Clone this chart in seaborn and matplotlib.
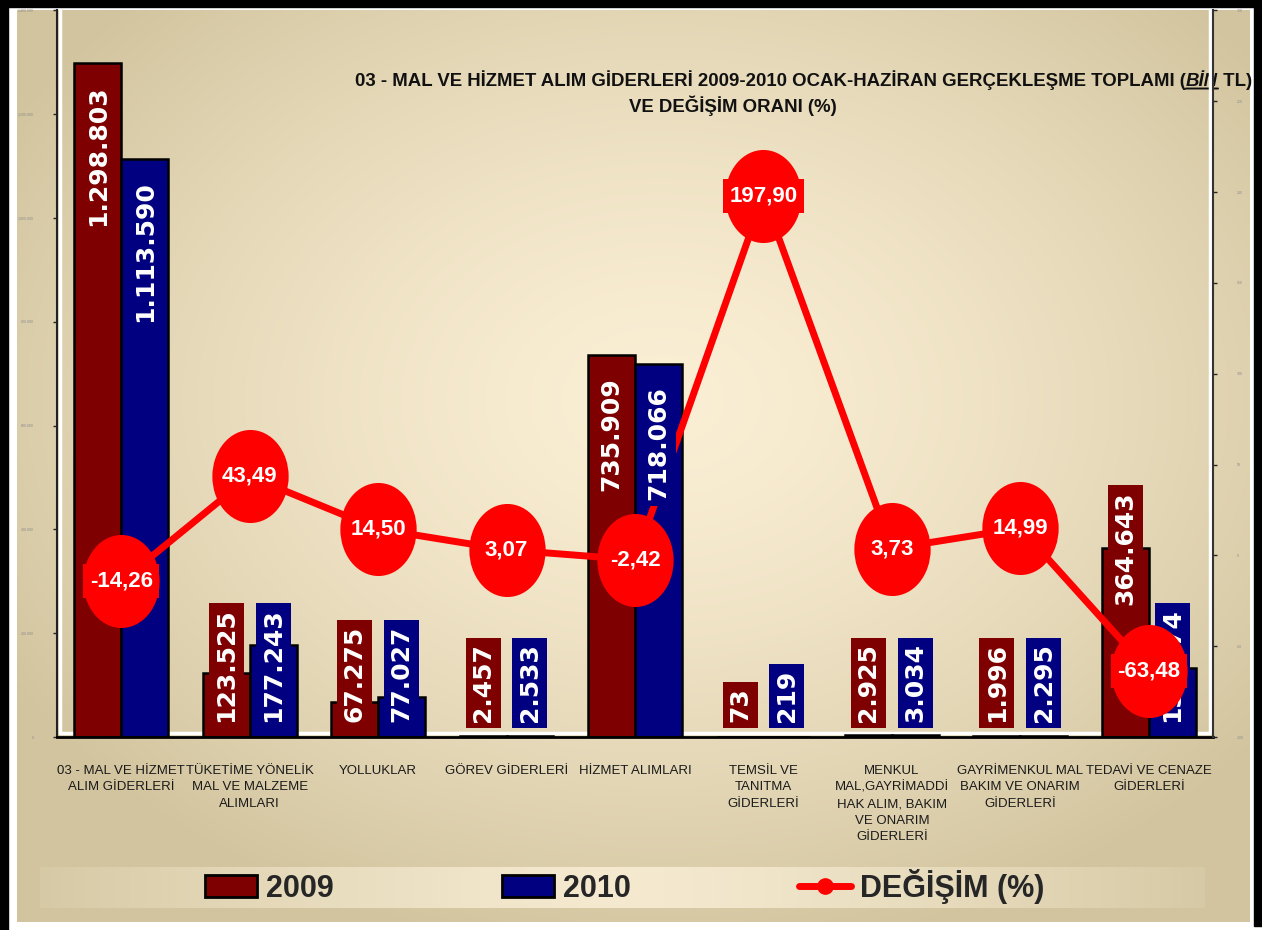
import numpy as np
import pandas as pd
import matplotlib
matplotlib.use('Agg')
import matplotlib.pyplot as plt
import matplotlib.transforms as mtransforms
import seaborn as sns
from matplotlib.patches import Patch, Rectangle
from matplotlib.lines import Line2D
from matplotlib.path import Path
from matplotlib import font_manager

# --- veri ---
categories = [
    "03 - MAL VE HİZMET\nALIM GİDERLERİ",
    "TÜKETİME YÖNELİK\nMAL VE MALZEME\nALIMLARI",
    "YOLLUKLAR",
    "GÖREV GİDERLERİ",
    "HİZMET ALIMLARI",
    "TEMSİL VE\nTANITMA\nGİDERLERİ",
    "MENKUL\nMAL,GAYRİMADDİ\nHAK ALIM, BAKIM\nVE ONARIM\nGİDERLERİ",
    "GAYRİMENKUL MAL\nBAKIM VE ONARIM\nGİDERLERİ",
    "TEDAVİ VE CENAZE\nGİDERLERİ",
]
val_2009 = [1298803, 123525, 67275, 2457, 735909, 73, 2925, 1996, 364643]
val_2010 = [1113590, 177243, 77027, 2533, 718066, 219, 3034, 2295, 133174]
change_pct = [-14.26, 43.49, 14.50, 3.07, -2.42, 197.90, 3.73, 14.99, -63.48]
years = ["2009", "2010"]

title_1a = "03 - MAL VE HİZMET ALIM GİDERLERİ 2009-2010 OCAK-HAZİRAN GERÇEKLEŞME TOPLAMI ("
title_1b = "BİN"
title_1c = " TL)"
title_2 = "VE DEĞİŞİM ORANI (%)"

COL_2009 = '#7F0000'
COL_2010 = '#000080'
COL_LINE = '#FF0000'

sns.set_style('white')
installed = {f.name for f in font_manager.fontManager.ttflist}
narrow = 'Liberation Sans Narrow' if 'Liberation Sans Narrow' in installed else 'Liberation Sans'
plt.rcParams['font.family'] = ['Liberation Sans', 'DejaVu Sans']

W, H, DPI = 1262, 930, 100
fig = plt.figure(figsize=(W / DPI, H / DPI), dpi=DPI, facecolor='white')

# arka plan (piksel koordinatlari)
bg = fig.add_axes([0, 0, 1, 1], zorder=-10)
yy, xx = np.mgrid[11:922:3, 17:1250:3]
d = np.sqrt(((xx - 660) / 760.0) ** 2 + ((yy - 400) / 560.0) ** 2)
t = np.clip(d, 0, 1) ** 1.5
c_in = np.array([250, 238, 212]) / 255.0
c_out = np.array([210, 196, 158]) / 255.0
img = c_in * (1 - t)[..., None] + c_out * t[..., None]
bg.imshow(img, extent=(17, 1250, 922, 11), aspect='auto', interpolation='bilinear')

# lejant bandi
bx = np.linspace(-1, 1, 400)
tb = np.abs(bx) ** 1.3
band = c_in * 0.98 * (1 - tb)[:, None] + np.array([214, 202, 166]) / 255.0 * tb[:, None]
bg.imshow(band[None, :, :], extent=(40, 1205, 908, 867), aspect='auto', interpolation='bilinear')

bg.add_patch(Rectangle((0, 0), 8, H, color='black'))
bg.add_patch(Rectangle((0, 0), W, 7, color='black'))
bg.add_patch(Rectangle((1254, 0), 8, 926, color='black'))
bg.set_xlim(0, W)
bg.set_ylim(H, 0)
bg.axis('off')

# ana eksen
ax = fig.add_axes([57 / W, 193 / H, (1213 - 57) / W, (737 - 10.5) / H])
ax.patch.set_alpha(0)

df = pd.DataFrame({
    'kategori': categories * 2,
    'yil': [years[0]] * len(categories) + [years[1]] * len(categories),
    'deger': val_2009 + val_2010,
})
sns.barplot(data=df, x='kategori', y='deger', hue='yil', ax=ax,
            palette={years[0]: COL_2009, years[1]: COL_2010},
            width=0.73, saturation=1, edgecolor='black', linewidth=1.8,
            legend=False, errorbar=None)

xpos = np.arange(len(categories))
ax.set_xlim(-0.5, len(categories) - 0.5)
ax.set_ylim(0, 1400000)
ax.set_yticks(np.arange(0, 1400001, 200000))
ax.set_yticklabels([f"{v:,}".replace(',', '.') for v in range(0, 1400001, 200000)],
                   fontsize=2.5, color='#8c8c8c')
ax.tick_params(axis='y', direction='out', length=3, width=1, pad=14, left=True)
ax.set_xticks(xpos, labels=categories, fontsize=9.5, linespacing=1.5,
              color='#1a1a1a', fontfamily=narrow)
ax.set_xticks(np.arange(-0.5, len(categories)), minor=True)
ax.tick_params(axis='x', which='major', length=0, pad=20)
ax.tick_params(axis='x', which='minor', direction='inout', length=10, width=1)
ax.set_xlabel('')
ax.set_ylabel('')
for s in ['top', 'right']:
    ax.spines[s].set_visible(False)
ax.spines['left'].set_color('#222222')
ax.spines['left'].set_linewidth(1.5)
ax.spines['bottom'].set_color('black')
ax.spines['bottom'].set_linewidth(2)
# ic beyaz cerceve (sol, alt, sag)
ax.plot([0.003, 0.003, 0.997, 0.997], [1, 0.005, 0.005, 1], transform=ax.transAxes,
        color='white', linewidth=2.5, zorder=0.5, clip_on=False)

# ikincil eksen: degisim (%)
ax2 = ax.twinx()
ax2.patch.set_alpha(0)
sns.lineplot(x=xpos, y=change_pct, ax=ax2, color=COL_LINE, linewidth=5,
             zorder=2, legend=False, errorbar=None)
ellipse = Path.unit_circle().transformed(mtransforms.Affine2D().scale(0.82, 1.0))
sns.scatterplot(x=xpos, y=change_pct, ax=ax2, marker=ellipse, s=67 ** 2,
                color=COL_LINE, linewidth=0, zorder=4, legend=False)
ax2.set_ylim(-100, 300)
ax2.set_yticks(np.arange(-100, 301, 50))
ax2.set_yticklabels([str(v) for v in range(-100, 301, 50)], fontsize=2.5, color='#8c8c8c')
ax2.tick_params(axis='y', direction='out', length=3, width=1, pad=14, right=True)
ax2.set_xlim(-0.5, len(categories) - 0.5)
ax2.set_ylabel('')
ax2.set_xlabel('')
for s in ['top', 'left', 'bottom']:
    ax2.spines[s].set_visible(False)
ax2.spines['right'].set_color('#333333')
ax2.spines['right'].set_linewidth(1.5)

# sutun etiketleri (cizginin ustunde)
for cont, vals, col in zip(ax.containers, [val_2009, val_2010], [COL_2009, COL_2010]):
    for rect, v in zip(cont, vals):
        cx = rect.get_x() + rect.get_width() / 2
        txt = f"{v:,}".replace(',', '.')
        if v > 500000:
            xy, off, va = (cx, v), -22, 'top'
        elif v > 300000:
            xy, off, va = (cx, v), 0, 'center'
        else:
            xy, off, va = (cx, 0), 15, 'bottom'
        ax2.annotate(txt, xy=xy, xycoords=ax.transData, xytext=(0, off),
                     textcoords='offset pixels', rotation=90, ha='center', va=va,
                     color='white', fontsize=18, fontweight='bold',
                     fontfamily=['DejaVu Sans'], zorder=3,
                     bbox=dict(boxstyle='square,pad=0.22', facecolor=col, edgecolor='none'))

for x, v in zip(xpos, change_pct):
    ax2.annotate(f"{v:.2f}".replace('.', ','), xy=(x, v), ha='center', va='center',
                 color='white', fontsize=16, fontweight='bold', zorder=5,
                 bbox=dict(boxstyle='square,pad=0.3', facecolor=COL_LINE, edgecolor='none'))

# baslik
tkw = dict(fontsize=13.4, fontweight='bold', color='#111111')
t1 = bg.text(355, 80, title_1a, ha='left', va='center', **tkw)
t2 = bg.annotate(title_1b, xy=(1, 0), xycoords=t1, ha='left', va='bottom',
                 fontstyle='italic', **tkw)
bg.annotate('', xy=(0, 0.08), xycoords=t2, xytext=(1, 0.08), textcoords=t2,
            arrowprops=dict(arrowstyle='-', lw=1.4, color='#111111', shrinkA=0, shrinkB=0))
bg.annotate(title_1c, xy=(1, 0), xycoords=t2, ha='left', va='bottom', **tkw)
bg.text(733, 106, title_2, ha='center', va='center', **tkw)

# lejant
handles = [
    Patch(facecolor=COL_2009, edgecolor='black', linewidth=2),
    Patch(facecolor=COL_2010, edgecolor='black', linewidth=2),
    Line2D([], [], color=COL_LINE, linewidth=5, marker='o', markersize=11),
]
fig.legend(handles, [years[0], years[1], 'DEĞİŞİM (%)'], loc='center',
           bbox_to_anchor=(625 / W, 1 - 886 / H), ncol=3, frameon=False,
           prop=dict(family=['Liberation Sans', 'DejaVu Sans'], weight='bold', size=22),
           handlelength=1.7, handleheight=0.7, handletextpad=0.3, columnspacing=5.5)

fig.savefig('out.png', dpi=DPI)
